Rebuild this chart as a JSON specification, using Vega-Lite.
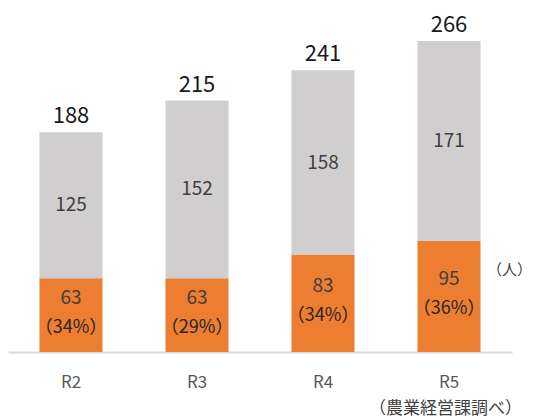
{
  "$schema": "https://vega.github.io/schema/vega-lite/v6.json",
  "width": 504,
  "height": 352,
  "autosize": "none",
  "padding": {"left": 8, "top": 0, "right": 21, "bottom": 68},
  "config": {"font": "Noto Sans CJK JP", "view": {"stroke": null}},
  "title": {"text": "（農業経営課調べ）", "orient": "bottom", "anchor": "end", "frame": "group", "fontSize": 17, "fontWeight": "normal", "color": "#404040", "offset": 11, "dx": 10},
  "data": {"values": [
    {"year": "R2", "orange": 63, "gray": 125, "total": 188, "pct": "（34%）"},
    {"year": "R3", "orange": 63, "gray": 152, "total": 215, "pct": "（29%）"},
    {"year": "R4", "orange": 83, "gray": 158, "total": 241, "pct": "（34%）"},
    {"year": "R5", "orange": 95, "gray": 171, "total": 266, "pct": "（36%）"}
  ]},
  "encoding": {
    "x": {"field": "year", "type": "nominal", "sort": null,
      "scale": {"paddingInner": 0.5, "paddingOuter": 0.25},
      "axis": {"title": null, "labelAngle": 0, "ticks": false, "domainColor": "#d9d9d9", "domainWidth": 2, "labelFontSize": 17, "labelColor": "#595959", "labelPadding": 22, "labelFont": "Noto Sans CJK JP"}}
  },
  "layer": [
    {
      "transform": [{"fold": ["orange", "gray"], "as": ["part", "value"]},
        {"calculate": "datum.part === 'orange' ? 0 : 1", "as": "ord"}],
      "mark": {"type": "bar"},
      "encoding": {
        "y": {"field": "value", "type": "quantitative", "stack": "zero", "scale": {"domain": [0, 301], "nice": false}, "axis": null},
        "order": {"field": "ord"},
        "color": {"field": "part", "type": "nominal", "scale": {"domain": ["orange", "gray"], "range": ["#ED7D31", "#D0CECE"]}, "legend": null}
      }
    },
    {
      "mark": {"type": "text", "baseline": "bottom", "dy": -4, "fontSize": 22, "color": "#1a1a1a"},
      "encoding": {"y": {"field": "total", "type": "quantitative"}, "text": {"field": "total"}}
    },
    {
      "transform": [{"calculate": "datum.orange + datum.gray / 2", "as": "gmid"}],
      "mark": {"type": "text", "baseline": "middle", "fontSize": 19, "color": "#404040"},
      "encoding": {"y": {"field": "gmid", "type": "quantitative"}, "text": {"field": "gray"}}
    },
    {
      "transform": [{"calculate": "datum.orange / 2", "as": "omid"}],
      "mark": {"type": "text", "baseline": "middle", "dy": -17, "fontSize": 19, "color": "#404040"},
      "encoding": {"y": {"field": "omid", "type": "quantitative"}, "text": {"field": "orange"}}
    },
    {
      "transform": [{"calculate": "datum.orange / 2", "as": "omid"}],
      "mark": {"type": "text", "baseline": "middle", "dy": 13, "fontSize": 18, "color": "#262626"},
      "encoding": {"y": {"field": "omid", "type": "quantitative"}, "text": {"field": "pct"}}
    },
    {
      "transform": [{"filter": "datum.year === 'R5'"}],
      "mark": {"type": "text", "baseline": "middle", "align": "right", "dx": 83, "dy": 29, "fontSize": 15, "color": "#404040", "text": "（人）"},
      "encoding": {"y": {"field": "orange", "type": "quantitative"}}
    }
  ]
}
